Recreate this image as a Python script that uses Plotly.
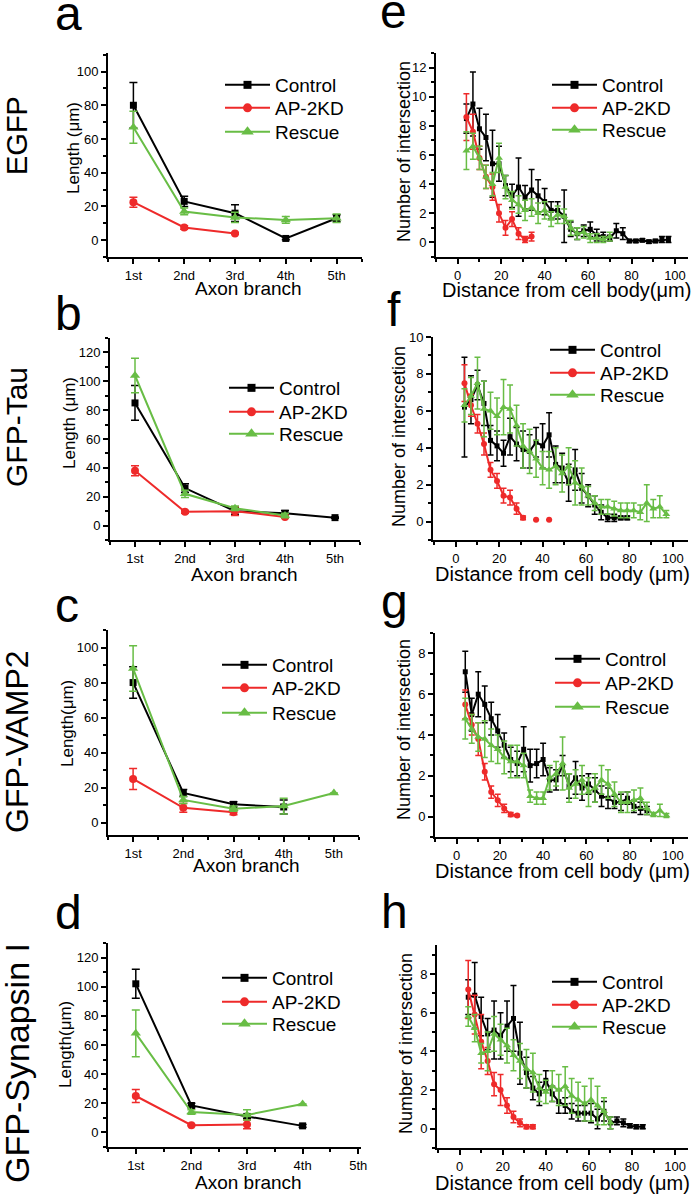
import plotly.graph_objects as go

W, H = 697, 1196
FONT = 'Liberation Sans, Arial, Helvetica, sans-serif'

BRANCH_POS = [1, 2, 3, 4, 5]
BRANCH_LABELS = ['1st', '2nd', '3rd', '4th', '5th']

# sholl radii (um)
RADIUS = [4, 7, 10, 13, 16, 19, 22, 25, 28, 31, 34, 37, 40, 43, 46, 49,
          52, 55, 58, 61, 64, 67, 70, 73, 76, 79, 82, 85, 88, 91, 94, 97]

SERIES = ['Control', 'AP-2KD', 'Rescue']
COLORS = {'Control': '#000000', 'AP-2KD': '#ee2a2a', 'Rescue': '#68bd45'}
SYMBOLS = {'Control': 'square', 'AP-2KD': 'circle', 'Rescue': 'triangle-up'}

# a - EGFP, branch length
a_control = [80, 23, 16, 1, 13]
a_control_err = [13.5, 3, 5, 0.8, 2]
a_kd = [22.5, 7.5, 4]
a_kd_err = [3, 1, 0.5]
a_rescue = [67, 17, 13.5, 12, 13]
a_rescue_err = [9.5, 2, 3, 2, 2.5]

# b - GFP-Tau
b_control = [85, 26, 10, 8.5, 5.5]
b_control_err = [12, 3, 2.5, 2, 0.5]
b_kd = [38, 9.5, 10, 6]
b_kd_err = [3.5, 1, 3, 1]
b_rescue = [104, 22, 12, 7]
b_rescue_err = [12, 2.5, 1.5, 1.5]

# c - GFP-VAMP2
c_control = [80, 17, 10.5, 9]
c_control_err = [9, 2, 1.5, 4]
c_kd = [25, 8.5, 6]
c_kd_err = [6, 2.5, 1.5]
c_rescue = [88, 13, 8, 9.5, 17]
c_rescue_err = [13, 2, 1.5, 4.5, 0]

# d - GFP-Synapsin I
d_control = [102, 18.5, 11, 4.5]
d_control_err = [10, 1.5, 1.5, 1]
d_kd = [25, 5, 5.5]
d_kd_err = [4.5, 0.5, 3]
d_rescue = [68, 14, 12, 19.5]
d_rescue_err = [16, 1.5, 3.5, 0]

# e - EGFP, sholl
e_control = [8.5, 9.5, 7.8, 7.2, 5.4, 5.4, 3.9, 3.2, 3.8, 3.1, 3.6, 3.2, 2.8, 2.2, 2.2, 1.8,
             0.9, 0.6, 0.8, 0.9, 0.5, 0.4, 0.3, 0.8, 0.6, 0.1, 0.1, 0.15, 0.05, 0.1, 0.2, 0.2]
e_control_err = [1.0, 2.2, 1.4, 1.6, 2.3, 1.2, 0.7, 0.8, 2.0, 0.8, 1.4, 1.1, 0.9, 0.6, 0.6, 1.8,
                 0.5, 0.4, 0.4, 0.5, 0.4, 0.3, 0.2, 0.5, 0.4, 0.1, 0.1, 0.1, 0.1, 0.1, 0.2, 0.2]
e_kd = [8.6, 7.6, 5.8, 4.5, 3.8, 2.0, 1.0, 1.6, 0.6, 0.2, 0.4]
e_kd_err = [1.6, 1.2, 0.8, 0.8, 0.9, 0.6, 0.5, 0.5, 0.4, 0.2, 0.3]
e_rescue = [6.3, 6.6, 5.8, 4.5, 4.0, 5.8, 3.8, 2.9, 2.6, 2.2, 2.4, 2.0, 2.2, 1.6, 1.9, 1.8,
            1.0, 0.6, 0.7, 0.3, 0.3, 0.2, 0.4]
e_rescue_err = [1.3, 0.9, 0.8, 0.8, 0.8, 1.0, 0.8, 0.6, 0.6, 0.7, 0.6, 0.7, 0.6, 0.5, 0.6, 0.5,
                0.5, 0.4, 0.4, 0.3, 0.3, 0.2, 0.3]

# f - GFP-Tau, sholl
f_control = [6.2, 6.6, 7.4, 6.4, 4.4, 4.1, 3.7, 4.6, 4.2, 3.9, 3.8, 4.3, 4.1, 4.7, 3.1, 2.9,
             2.1, 2.8, 1.8, 1.4, 0.9, 0.5, 0.2, 0.2, 0.2, 0.2]
f_control_err = [2.7, 1.3, 0.8, 1.2, 0.8, 0.8, 0.7, 1.0, 0.9, 1.0, 0.9, 0.8, 1.2, 1.2, 1.0, 0.8,
                 1.0, 1.1, 0.8, 0.6, 0.5, 0.4, 0.2, 0.2, 0.1, 0.1]
f_kd = [7.5, 6.3, 5.3, 4.2, 2.8, 2.2, 1.4, 1.3, 0.7, 0.2, None, 0.1, None, 0.1]
f_kd_err = [1.0, 0.6, 0.5, 0.6, 0.4, 0.4, 0.4, 0.4, 0.3, 0.1, 0, 0, 0, 0]
f_rescue = [6.3, 6.8, 7.5, 6.1, 6.0, 5.7, 6.2, 6.1, 5.2, 4.1, 3.8, 3.4, 2.9, 2.8, 3.0, 2.6,
            3.0, 2.1, 1.9, 1.4, 1.0, 0.8, 0.8, 0.7, 0.6, 0.6, 0.6, 0.5, 1.0, 0.7, 0.8, 0.4]
f_rescue_err = [0.9, 1.0, 1.4, 1.5, 1.0, 1.0, 1.5, 1.3, 1.1, 1.2, 1.2, 1.0, 0.9, 1.0, 1.0, 1.0,
                1.0, 1.2, 1.0, 0.5, 0.4, 0.4, 0.4, 0.4, 0.4, 0.4, 0.4, 0.4, 1.0, 0.5, 0.6, 0.2]

# g - GFP-VAMP2, sholl
g_control = [7.1, 5.0, 6.0, 5.5, 4.8, 4.2, 3.5, 2.8, 2.6, 3.3, 2.5, 2.6, 2.8, 1.8, 1.8, 2.5,
             1.5, 1.9, 1.4, 1.6, 1.3, 1.0, 0.9, 0.7, 0.7, 0.9, 0.5, 0.4, 0.3]
g_control_err = [1.0, 0.8, 1.1, 0.9, 0.8, 0.8, 0.6, 0.6, 0.6, 1.1, 0.8, 0.7, 0.8, 0.6, 0.5, 0.5,
                 0.6, 0.8, 0.6, 0.5, 0.6, 0.5, 0.5, 0.3, 0.4, 0.3, 0.3, 0.3, 0.2]
g_kd = [5.5, 4.5, 3.8, 2.2, 1.2, 0.8, 0.4, 0.1, 0.05]
g_kd_err = [0.7, 0.5, 0.8, 0.4, 0.3, 0.3, 0.2, 0.1, 0.05]
g_rescue = [4.8, 4.3, 3.9, 3.8, 3.5, 3.3, 2.9, 2.7, 2.7, 2.5, 1.0, 0.9, 0.9, 1.9, 2.1, 2.6,
            1.4, 1.6, 1.8, 1.2, 1.4, 1.8, 1.6, 1.1, 0.7, 0.7, 0.8, 0.9, 0.4, 0.1, 0.3, 0.05]
g_rescue_err = [1.0, 0.7, 0.7, 0.9, 0.8, 0.7, 0.8, 0.8, 0.8, 0.6, 0.3, 0.3, 0.3, 0.6, 0.6, 1.3,
                0.7, 0.7, 0.7, 0.7, 0.7, 0.7, 0.7, 0.6, 0.5, 0.5, 0.5, 0.5, 0.3, 0.1, 0.3, 0.1]

# h - GFP-Synapsin I, sholl
h_control = [6.8, 6.9, 5.8, 4.9, 5.1, 4.8, 5.3, 5.7, 3.9, 2.9, 2.1, 1.8, 2.5, 1.8, 1.4, 1.2,
             0.9, 0.8, 0.8, 0.8, 0.5, 0.9, 0.3, 0.4, 0.3, 0.15, 0.1, 0.1]
h_control_err = [0.9, 1.7, 1.0, 0.8, 1.5, 1.2, 1.3, 1.7, 1.6, 0.8, 0.6, 0.6, 0.5, 0.4, 0.6, 0.4,
                 0.4, 0.4, 0.4, 0.5, 0.5, 0.5, 0.3, 0.2, 0.2, 0.1, 0.1, 0.1]
h_kd = [7.2, 5.9, 4.5, 3.5, 2.3, 2.0, 1.2, 0.6, 0.3, 0.1, 0.1]
h_kd_err = [1.5, 1.0, 1.4, 0.7, 0.6, 0.8, 0.4, 0.3, 0.2, 0.1, 0.1]
h_rescue = [5.8, 5.2, 3.9, 4.0, 4.9, 4.6, 4.3, 3.8, 3.5, 3.1, 2.9, 2.1, 1.9, 2.2, 2.0, 2.2,
            1.7, 1.5, 1.3, 1.5, 1.2, 0.9, 0.3]
h_rescue_err = [0.5, 0.7, 0.5, 1.0, 0.9, 0.8, 0.9, 0.8, 0.9, 1.0, 1.0, 0.7, 0.6, 0.8, 0.8, 1.0,
                0.9, 0.9, 0.9, 1.1, 1.0, 0.7, 0.3]


def px(x):
    return x / W


def py(y):
    return 1 - y / H


fig = go.Figure()
annotations = []


def add_panel(n, box, xr, yr, series, kind, legend_pos, letter, ytitle, xtitle):
    left, top, right, bottom = box
    xa = 'xaxis' if n == 1 else 'xaxis%d' % n
    ya = 'yaxis' if n == 1 else 'yaxis%d' % n
    xref = 'x' if n == 1 else 'x%d' % n
    yref = 'y' if n == 1 else 'y%d' % n

    common = dict(showline=True, linewidth=2, linecolor='black', showgrid=False, zeroline=False,
                  ticks='outside', ticklen=5, tickwidth=1.5, tickcolor='black', automargin=False,
                  tickfont=dict(size=13, color='black', family=FONT))
    if kind == 'branch':
        xaxis = dict(domain=[px(left), px(right)], range=xr, anchor=yref,
                     tickmode='array', tickvals=BRANCH_POS, ticktext=BRANCH_LABELS,
                     minor=dict(tickvals=[0.5, 1.5, 2.5, 3.5, 4.5, 5.5], ticks='outside',
                                ticklen=3, tickwidth=1.5, tickcolor='black'), **common)
        yaxis = dict(domain=[py(bottom), py(top)], range=yr, anchor=xref, dtick=20, tick0=0,
                     minor=dict(dtick=10, tick0=0, ticks='outside', ticklen=3, tickwidth=1.5,
                                tickcolor='black'), **common)
        msize = {'Control': 7, 'AP-2KD': 8, 'Rescue': 9}
    else:
        xaxis = dict(domain=[px(left), px(right)], range=xr, anchor=yref, dtick=20, tick0=0,
                     minor=dict(dtick=10, tick0=0, ticks='outside', ticklen=3, tickwidth=1.5,
                                tickcolor='black'), **common)
        yaxis = dict(domain=[py(bottom), py(top)], range=yr, anchor=xref, dtick=2, tick0=0,
                     minor=dict(dtick=1, tick0=0, ticks='outside', ticklen=3, tickwidth=1.5,
                                tickcolor='black'), **common)
        msize = {'Control': 5, 'AP-2KD': 6, 'Rescue': 7}
    fig.update_layout(**{xa: xaxis, ya: yaxis})

    for name, (vals, errs) in zip(SERIES, series):
        xs = BRANCH_POS[:len(vals)] if kind == 'branch' else RADIUS[:len(vals)]
        c = COLORS[name]
        fig.add_trace(go.Scatter(
            x=xs, y=vals, xaxis=xref, yaxis=yref, mode='lines+markers', showlegend=False,
            name=name, line=dict(color=c, width=2), connectgaps=False,
            marker=dict(symbol=SYMBOLS[name], size=msize[name], color=c),
            error_y=dict(type='data', array=errs, color=c, thickness=1.5,
                         width=4 if kind == 'branch' else 3)))

    # one legend per entry so the rows can sit exactly where the original has them
    text_x, rows = legend_pos
    for i, (name, row_y) in enumerate(zip(SERIES, rows)):
        k = (n - 1) * 3 + i + 1
        leg = 'legend' if k == 1 else 'legend%d' % k
        c = COLORS[name]
        fig.add_trace(go.Scatter(
            x=[None], y=[None], xaxis=xref, yaxis=yref, mode='lines+markers', name=name,
            legend=leg, showlegend=True, line=dict(color=c, width=2),
            marker=dict(symbol=SYMBOLS[name], size={'Control': 8, 'AP-2KD': 9, 'Rescue': 11}[name],
                        color=c)))
        fig.update_layout(**{leg: dict(x=px(text_x - 53), y=py(row_y), xanchor='left',
                                       yanchor='middle', bgcolor='rgba(0,0,0,0)', borderwidth=0,
                                       itemwidth=45,
                                       font=dict(size=19, color='black', family=FONT),
                                       itemclick=False, itemdoubleclick=False)})

    t, lxp, lyp = letter
    annotations.append(dict(text=t, x=px(lxp), y=py(lyp), xref='paper', yref='paper',
                            showarrow=False, xanchor='center', yanchor='middle',
                            font=dict(size=48, color='black', family=FONT)))
    t, tx, ty, ts = ytitle
    annotations.append(dict(text=t, x=px(tx), y=py(ty), xref='paper', yref='paper',
                            showarrow=False, xanchor='center', yanchor='middle', textangle=-90,
                            font=dict(size=ts, color='black', family=FONT)))
    t, tx, ty, ts = xtitle
    annotations.append(dict(text=t, x=px(tx), y=py(ty), xref='paper', yref='paper',
                            showarrow=False, xanchor='center', yanchor='middle',
                            font=dict(size=ts, color='black', family=FONT)))


add_panel(1, (108, 53, 362, 257), [0.5, 5.5], [-10, 111], kind='branch',
          series=[(a_control, a_control_err), (a_kd, a_kd_err), (a_rescue, a_rescue_err)],
          legend_pos=(273, (85, 108, 132)), letter=('a', 68, 13),
          ytitle=('Length (\u03bcm)', 73, 148, 17), xtitle=('Axon branch', 248, 288, 19))
add_panel(2, (110, 338, 360, 540), [0.5, 5.5], [-10, 130], kind='branch',
          series=[(b_control, b_control_err), (b_kd, b_kd_err), (b_rescue, b_rescue_err)],
          legend_pos=(277, (388, 412, 434)), letter=('b', 68, 313),
          ytitle=('Length (\u03bcm)', 70, 423, 17), xtitle=('Axon branch', 244, 574, 19))
add_panel(3, (108, 630, 359, 835), [0.5, 5.5], [-7, 110], kind='branch',
          series=[(c_control, c_control_err), (c_kd, c_kd_err), (c_rescue, c_rescue_err)],
          legend_pos=(270, (665, 688, 713)), letter=('c', 67, 605),
          ytitle=('Length(\u03bcm)', 67, 724, 17), xtitle=('Axon branch', 246, 865, 19))
add_panel(4, (108, 943, 361, 1147), [0.5, 5.05], [-10, 130], kind='branch',
          series=[(d_control, d_control_err), (d_kd, d_kd_err), (d_rescue, d_rescue_err)],
          legend_pos=(270, (978, 1002, 1024)), letter=('d', 68, 912),
          ytitle=('Length(\u03bcm)', 65, 1045, 17), xtitle=('Axon branch', 248, 1182, 19))
add_panel(5, (436, 53, 688, 257), [-10, 106], [-1, 13], kind='sholl',
          series=[(e_control, e_control_err), (e_kd, e_kd_err), (e_rescue, e_rescue_err)],
          legend_pos=(600, (85, 108, 130)), letter=('e', 393, 11),
          ytitle=('Number of intersection', 404, 152, 18),
          xtitle=('Distance from cell body(\u03bcm)', 566, 290, 20))
add_panel(6, (433, 337, 688, 540), [-10.5, 107], [-1, 10], kind='sholl',
          series=[(f_control, f_control_err), (f_kd, f_kd_err), (f_rescue, f_rescue_err)],
          legend_pos=(598, (350, 373, 395)), letter=('f', 394, 310),
          ytitle=('Number of interscetion', 399, 437, 18),
          xtitle=('Distance from cell body (\u03bcm)', 562, 574, 20))
add_panel(7, (435, 633, 688, 837), [-10, 107], [-1, 9], kind='sholl',
          series=[(g_control, g_control_err), (g_kd, g_kd_err), (g_rescue, g_rescue_err)],
          legend_pos=(603, (659, 683, 707)), letter=('g', 394, 601),
          ytitle=('Number of intersection', 404, 730, 18),
          xtitle=('Distance from cell body (\u03bcm)', 562, 871, 20))
add_panel(8, (437, 945, 688, 1148), [-10.5, 106], [-1, 9.5], kind='sholl',
          series=[(h_control, h_control_err), (h_kd, h_kd_err), (h_rescue, h_rescue_err)],
          legend_pos=(600, (982, 1005, 1027)), letter=('h', 394, 911),
          ytitle=('Number of intersection', 406, 1044, 18),
          xtitle=('Distance from cell body (\u03bcm)', 562, 1183, 20))

# row labels
ROW_LABELS = ['EGFP', 'GFP-Tau', 'GFP-VAMP2', 'GFP-Synapsin I']
ROW_CENTERS = [136, 427, 742, 1063]
ROW_SIZES = [29, 30, 32, 34]
for lab, yc, fs in zip(ROW_LABELS, ROW_CENTERS, ROW_SIZES):
    annotations.append(dict(text=lab, x=px(17), y=py(yc), xref='paper', yref='paper',
                            showarrow=False, xanchor='center', yanchor='middle', textangle=-90,
                            font=dict(size=fs, color='black', family=FONT)))

fig.update_layout(width=W, height=H, autosize=False,
                  margin=dict(l=0, r=0, t=0, b=0, pad=0, autoexpand=False),
                  paper_bgcolor='white', plot_bgcolor='white', annotations=annotations,
                  font=dict(family=FONT, color='black'))

fig.write_html('out.html', config={'displayModeBar': False},
               post_script="document.body.style.margin='0px';")
